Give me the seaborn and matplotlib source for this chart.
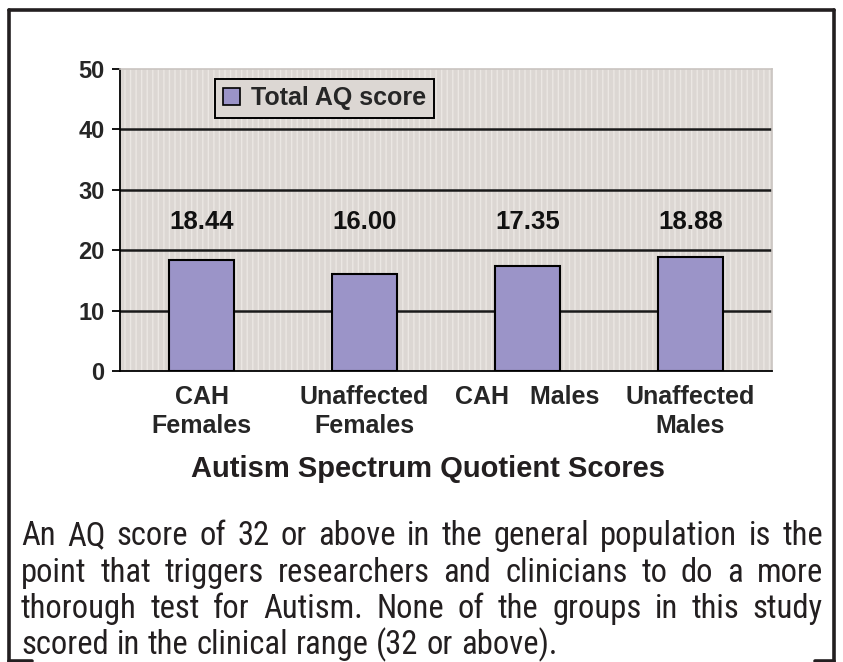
import matplotlib
matplotlib.use("Agg")
import matplotlib.pyplot as plt
import seaborn as sns
import pandas as pd
from matplotlib.patches import Patch, Rectangle
from matplotlib.lines import Line2D

# data
groups = ["CAH\nFemales", "Unaffected\nFemales", "CAH   Males", "Unaffected\nMales"]
scores = [18.44, 16.00, 17.35, 18.88]
score_labels = ["18.44", "16.00", "17.35", "18.88"]
series_name = "Total AQ score"
y_ticks = [0, 10, 20, 30, 40, 50]
chart_title = "Autism Spectrum Quotient Scores"
caption_lines = [
    "An AQ score of 32 or above in the general population is the",
    "point that triggers researchers and clinicians to do a more",
    "thorough test for Autism. None of the groups in this study",
    "scored in the clinical range (32 or above).",
]

df = pd.DataFrame({"group": groups, "score": scores})

sns.set_theme(style="white")
plt.rcParams["font.family"] = ["Liberation Sans", "DejaVu Sans"]

W, H = 843, 662
fig = plt.figure(figsize=(W / 100, H / 100), dpi=100)
ax = fig.add_axes([120 / W, 1 - 371 / H, 652 / W, 302 / H])

bar_col = "#9b94c8"
bg_col = "#dcd7d3"
ax.set_facecolor(bg_col)
# striped background
ax.add_patch(Rectangle((0, 0), 1, 1, transform=ax.transAxes, facecolor="none",
                       edgecolor="#ebe7e3", hatch="|||", lw=0, zorder=0))

sns.barplot(data=df, x="group", y="score", color=bar_col, width=0.4,
            edgecolor="black", linewidth=1.5, saturation=1, ax=ax, zorder=3)

ax.set_ylim(0, 50)
ax.set_xlim(-0.5, len(groups) - 0.5)
ax.set_yticks(y_ticks)
ax.set_yticklabels([str(t) for t in y_ticks], fontsize=17, fontweight="bold")
for t in y_ticks[1:-1]:
    ax.axhline(t, color="#1a1a1a", lw=1.8, zorder=1)

# category labels centred under bars, ticks between categories
ax.set_xticks([i - 0.5 for i in range(len(groups) + 1)])
ax.set_xticklabels([])
ax.set_xticks(range(len(groups)), minor=True)
ax.set_xticklabels(groups, minor=True, fontsize=18, fontweight="bold",
                   linespacing=1.25, va="top")
ax.tick_params(axis="x", which="minor", length=0, pad=10)
ax.tick_params(axis="x", which="major", length=6, width=1.3, color="black", direction="out")
ax.tick_params(axis="y", length=6, width=1.3, color="black", direction="out", pad=5, left=True)
ax.set_xlabel("")
ax.set_ylabel("")

for s in ["left", "bottom"]:
    ax.spines[s].set_color("black")
    ax.spines[s].set_linewidth(1.3)
for s in ["top", "right"]:
    ax.spines[s].set_color("#c9c4c0")
    ax.spines[s].set_linewidth(1.2)

for i, lab in enumerate(score_labels):
    ax.text(i, 24.7, lab, ha="center", va="center", fontsize=18.5,
            fontweight="bold", color="#111111", zorder=4)

leg = ax.legend(handles=[Patch(facecolor=bar_col, edgecolor="black", lw=1.2, label=series_name)],
                loc="upper left", bbox_to_anchor=(0.146, 0.967), borderaxespad=0,
                fancybox=False, framealpha=1, facecolor=bg_col, edgecolor="black",
                handlelength=0.7, handleheight=0.7, handletextpad=0.45,
                borderpad=0.3, prop={"size": 18, "weight": "bold"})
leg.get_frame().set_linewidth(1.4)
leg.set_zorder(5)

fig.text(428 / W, 1 - 477 / H, chart_title, ha="center", va="baseline",
         fontsize=21, fontweight="bold", color="#231f20")

# justified caption
cap_font = ["Roboto Condensed", "Liberation Sans", "DejaVu Sans"]
cap_size = 23.5
x0, x1 = 21, 823
baselines = [545, 582, 618, 654]
fig.canvas.draw()
r = fig.canvas.get_renderer()
for li, (line, yb) in enumerate(zip(caption_lines, baselines)):
    words = line.split()
    txts = [fig.text(0, 1 - yb / H, w, ha="left", va="baseline", fontsize=cap_size,
                     family=cap_font, color="#231f20") for w in words]
    widths = [t.get_window_extent(r).width for t in txts]
    if li < len(caption_lines) - 1:
        gap = (x1 - x0 - sum(widths)) / (len(words) - 1)
    else:
        gap = 0.24 * cap_size * 100 / 72
    x = x0
    for t, w in zip(txts, widths):
        t.set_x(x / W)
        x += w + gap

# outer frame, open at the bottom
fc = "#231f20"
fl = 2.6
fig.add_artist(Line2D([9 / W, 9 / W], [0, 1 - 10 / H], color=fc, lw=fl))
fig.add_artist(Line2D([9 / W, 834 / W], [1 - 10 / H, 1 - 10 / H], color=fc, lw=fl))
fig.add_artist(Line2D([834 / W, 834 / W], [0, 1 - 10 / H], color=fc, lw=fl))
fig.add_artist(Line2D([9 / W, 32 / W], [1.5 / H, 1.5 / H], color=fc, lw=fl))
fig.add_artist(Line2D([815 / W, 834 / W], [1.5 / H, 1.5 / H], color=fc, lw=fl))

fig.savefig("out.png", dpi=100, facecolor="white")
